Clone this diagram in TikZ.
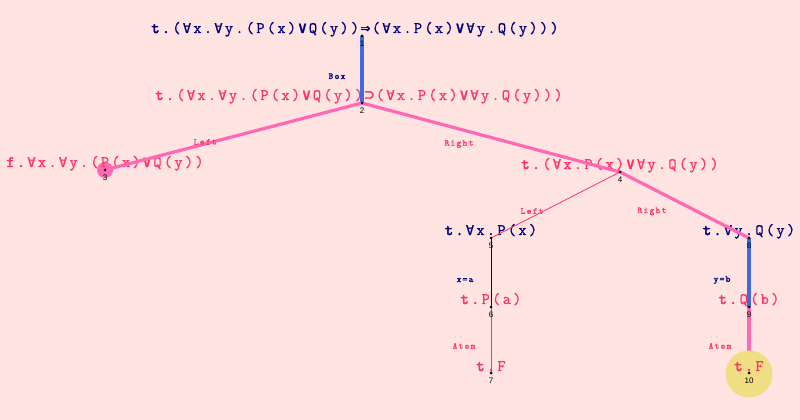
\documentclass[tikz,border=0pt]{standalone}
\usepackage{fontspec}
\setsansfont{Liberation Sans}
\newfontfamily\cour[FakeBold=0.8]{Latin Modern Mono}
\newfontfamily\courb[FakeBold=3]{Latin Modern Mono}
\newfontfamily\courl[LetterSpace=13, FakeBold=0.8]{Latin Modern Mono}
\newfontfamily\symf[Scale=0.85, FakeBold=0.8]{DejaVu Sans Mono}
\newfontfamily\symbf[Scale=1.0, FakeBold=2]{DejaVu Sans Mono}
\usetikzlibrary{positioning}
\definecolor{bgrose}{RGB}{255,228,225}
\definecolor{navyblue}{RGB}{0,0,128}
\definecolor{redpink}{RGB}{255,51,102}
\definecolor{hotpink}{RGB}{255,105,180}
\definecolor{royal}{RGB}{65,105,225}
\definecolor{khakiy}{RGB}{240,222,130}
% every character in a cell of its own
\newcommand\mono[1]{\monoi#1\relax}
\def\monoi#1{\ifx#1\relax\else\makebox[10.5pt]{#1}\expandafter\monoi\fi}
\newcommand\fall{{\symf ∀}}
\newcommand\vor{{\symbf ∨}}
\newcommand\impl{{\symbf ⇒}}
\newcommand\hsup{{\symbf ⊃}}
\newcommand\sgn[1]{{\courb\mono{#1.}}}
\tikzset{
  dot/.style={circle, fill=black, inner sep=0pt, minimum size=3pt},
  num/.style={font=\sffamily\fontsize{8}{8}\selectfont, inner sep=0pt},
  form/.style={font=\cour\fontsize{16}{18}\selectfont, inner sep=0pt, anchor=base},
  tform/.style={form, text=navyblue},
  fform/.style={form, text=redpink},
  elbl/.style={font=\courl\fontsize{9.2}{10}\selectfont, inner sep=0pt},
  thickblue/.style={royal, line width=3.2pt},
  thickpink/.style={hotpink, line width=3.2pt},
  thinred/.style={redpink, line width=0.8pt},
  thinnavy/.style={navyblue, line width=0.8pt}
}

\begin{document}
\begin{tikzpicture}[x=1pt, y=1pt]

  \fill[bgrose] (0,0) rectangle (800,420);
  \useasboundingbox (0,0) rectangle (800,420);

  % points of the tree
  \coordinate (c1) at (362,384);
  \coordinate (c2) at (362,317);
  \coordinate (c3) at (105,250);
  \coordinate (c4) at (620,248);
  \coordinate (c5) at (491,182);
  \coordinate (c6) at (491,113);
  \coordinate (c7) at (491,47);
  \coordinate (c8) at (749,182);
  \coordinate (c9) at (749,113);
  \coordinate (c10) at (749,47);

  \node[circle, fill=hotpink, minimum size=16pt, inner sep=0pt] (m3) at (c3) {};

  \node[tform] (t1) at ([xshift=-7pt, yshift=3pt]c1) {\sgn{t}\mono{(\fall x.\fall y.(P(x)\vor Q(y))\impl(\fall x.P(x)\vor\fall y.Q(y)))}};
  \node[fform] (t2) at ([xshift=-3pt, yshift=3pt]c2) {\sgn{t}\mono{(\fall x.\fall y.(P(x)\vor Q(y))\hsup(\fall x.P(x)\vor\fall y.Q(y)))}};
  \node[fform] (t3) at ([yshift=3pt]c3) {\sgn{f}\mono{\fall x.\fall y.(P(x)\vor Q(y))}};
  \node[fform] (t4) at ([yshift=3pt]c4) {\sgn{t}\mono{(\fall x.P(x)\vor\fall y.Q(y))}};
  \node[tform] (t5) at ([yshift=3pt]c5) {\sgn{t}\mono{\fall x.P(x)}};
  \node[fform] (t6) at ([yshift=3pt]c6) {\sgn{t}\mono{P(a)}};
  \node[fform] (t7) at ([yshift=2pt]c7) {\sgn{t}\mono{F}};
  \node[tform] (t8) at ([yshift=3pt]c8) {\sgn{t}\mono{\fall y.Q(y)}};
  \node[fform] (t9) at ([yshift=3pt]c9) {\sgn{t}\mono{Q(b)}};

  \draw[thickblue] (c1) -- node[elbl, text=navyblue, pos=0.6, xshift=-25pt]{Box} (c2); %% 1->2
  \draw[thickpink] (c2) -- node[elbl, text=redpink, pos=0.61, yshift=2pt]{Left} (c3); %% 2->3
  \draw[thickpink] (c2) -- node[elbl, text=redpink, pos=0.376, yshift=-15pt]{Right} (c4); %% 2->4
  \draw[thinred] (c4) -- node[elbl, text=redpink, pos=0.682, yshift=6pt]{Left} (c5); %% 4->5
  \draw[thickpink] (c4) -- node[elbl, text=redpink, pos=0.248, yshift=-23pt]{Right} (c8); %% 4->8
  \draw[thinnavy] (c5) -- node[elbl, text=navyblue, pos=0.61, xshift=-26pt]{x=a} (c6); %% 5->6
  \draw[thinred] (c6) -- node[elbl, text=redpink, pos=0.59, xshift=-27pt]{Atom} (c7); %% 6->7
  \draw[thickblue] (c8) -- node[elbl, text=navyblue, pos=0.61, xshift=-27pt]{y=b} (c9); %% 8->9
  \draw[thickpink] (c9) -- node[elbl, text=redpink, pos=0.59, xshift=-29pt]{Atom} (c10); %% 9->10

  \node[circle, fill=khakiy, minimum size=47pt, inner sep=0pt] (m10) at ([yshift=-1pt]c10) {};
  \node[fform] (t10) at ([yshift=2pt]c10) {\sgn{t}\mono{F}};

  \foreach \i in {1,...,10}{
    \node[dot] (n\i) at (c\i) {};
    \node[num, below=3pt of n\i] (l\i) {\i};
  }

\end{tikzpicture}
\end{document}
